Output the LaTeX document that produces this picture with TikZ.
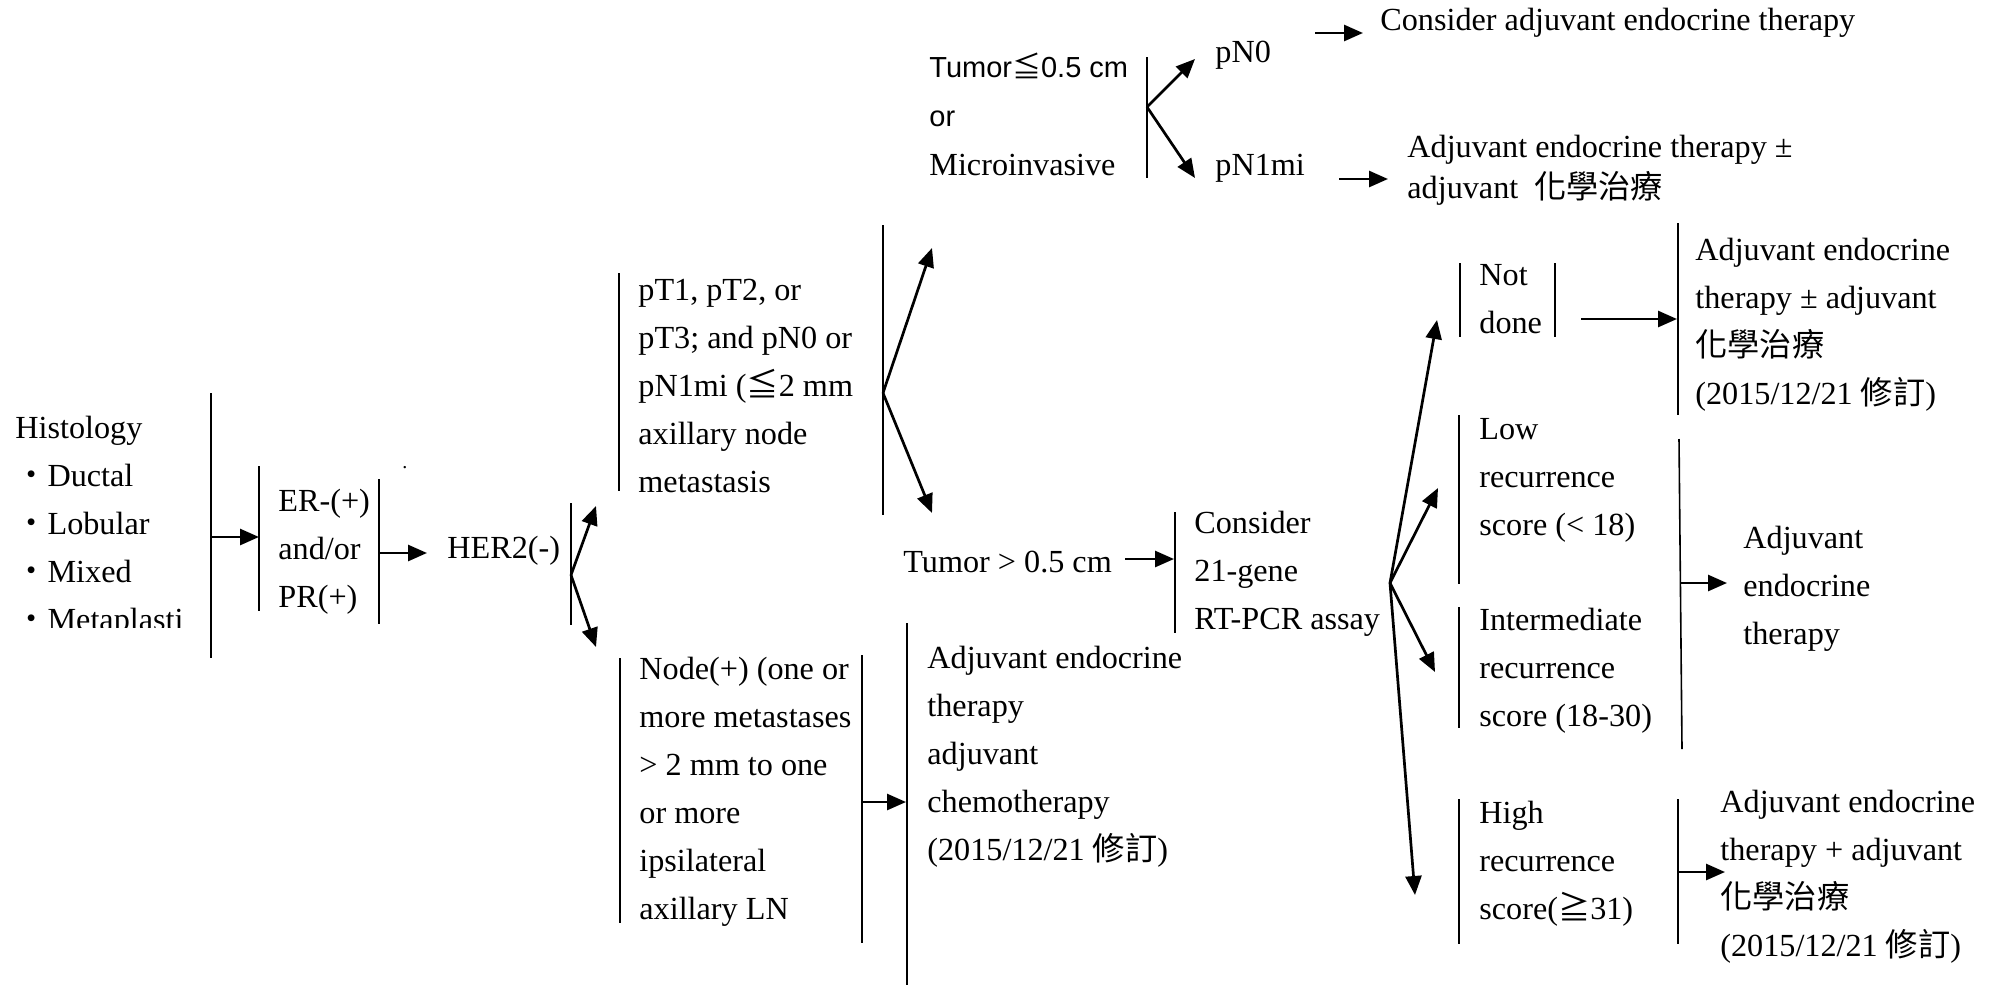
\documentclass[tikz,border=0pt]{standalone}
\usepackage{fontspec}
\setmainfont{Liberation Serif}
\newfontfamily\sansf{Liberation Sans}
\newfontfamily\cjk{Noto Sans CJK TC}
\usetikzlibrary{arrows.meta}
% left-aligned block of lines whose baseline is the first line
\newcommand\txtlines[1]{\begin{tabular}[t]{@{}l@{}}#1\end{tabular}}

\begin{document}
\begin{tikzpicture}[x=0.5pt,y=-0.5pt,
  lbl/.style={anchor=base west, inner sep=0pt, font=\fontsize{16.1}{24}\selectfont},
  bar/.style={line width=0.8pt},
  arr/.style={line width=1.35pt, -{Triangle[length=9.5pt,width=8pt]}}]

\useasboundingbox[fill=white] (0,0) rectangle (2002,985);

% ---------- text blocks ----------
\begin{scope}
  \clip (0,380) rectangle (205,627);
  \node[lbl] (hist) at (15,438) {\txtlines{Histology\\ {\cjk ・}Ductal\\ {\cjk ・}Lobular\\ {\cjk ・}Mixed\\ {\cjk ・}Metaplasti}};
\end{scope}
\node[lbl, font=\fontsize{10}{12}\selectfont] (dot) at (402,468) {.};
\node[lbl] (er) at (278,511) {\txtlines{ER-(+)\\ and/or\\ PR(+)}};
\node[lbl] (her) at (447,558) {HER2(-)};
\node[lbl] (pt) at (638,300) {\txtlines{pT1, pT2, or\\ pT3; and pN0 or\\ pN1mi ({\cjk ≦}2 mm\\ axillary node\\ metastasis}};
\node[lbl] (nodep) at (639,679) {\txtlines{Node(+) (one or\\ more metastases\\ > 2 mm to one\\ or more\\ ipsilateral\\ axillary LN}};
\node[lbl] (chemo) at (927,668) {\txtlines{Adjuvant endocrine\\ therapy\\ adjuvant\\ chemotherapy\\ (2015/12/21 {\cjk 修訂})}};
\node[lbl, font=\fontsize{16.1}{24.5}\selectfont] (small) at (929,77) {\txtlines{{\sansf\fontsize{14.5}{17}\selectfont Tumor{\cjk ≦}0.5 cm}\\ {\sansf\fontsize{14.5}{17}\selectfont or}\\ Microinvasive}};
\node[lbl] (pn0) at (1215,62) {pN0};
\node[lbl] (pn1) at (1215,175) {pN1mi};
\node[lbl] (cons1) at (1380,31) {Consider adjuvant endocrine therapy};
\node[lbl, font=\fontsize{16.1}{20.5}\selectfont] (adj1) at (1407,157) {\txtlines{Adjuvant endocrine therapy ±\\ adjuvant\ \ {\cjk 化學治療}}};
\node[lbl] (big) at (903,572) {Tumor > 0.5 cm};
\node[lbl] (cons2) at (1194,533) {\txtlines{Consider\\ 21-gene\\ RT-PCR assay}};
\node[lbl] (notd) at (1479,285) {\txtlines{Not\\ done}};
\node[lbl] (res1) at (1695,260) {\txtlines{Adjuvant endocrine\\ therapy ± adjuvant\\ {\cjk 化學治療}\\ (2015/12/21 {\cjk 修訂})}};
\node[lbl] (low) at (1479,439) {\txtlines{Low\\ recurrence\\ score (< 18)}};
\node[lbl] (mid) at (1479,630) {\txtlines{Intermediate\\ recurrence\\ score (18-30)}};
\node[lbl] (res2) at (1743,548) {\txtlines{Adjuvant\\ endocrine\\ therapy}};
\node[lbl] (high) at (1479,823) {\txtlines{High\\ recurrence\\ score({\cjk ≧}31)}};
\node[lbl] (res3) at (1720,812) {\txtlines{Adjuvant endocrine\\ therapy + adjuvant\\ {\cjk 化學治療}\\ (2015/12/21 {\cjk 修訂})}};

% ---------- bracket bars ----------
\coordinate (histT) at (211,393);  \coordinate (histB) at (211,658);
\coordinate (erLT) at (259,466);   \coordinate (erLB) at (259,611);
\coordinate (erRT) at (379,479);   \coordinate (erRB) at (379,624);
\coordinate (herT) at (571,503);   \coordinate (herB) at (571,625);
\coordinate (ptLT) at (619,273);   \coordinate (ptLB) at (619,491);
\coordinate (ptRT) at (883,225);   \coordinate (ptRB) at (883,515);
\coordinate (smT) at (1147,57);    \coordinate (smB) at (1147,178);
\coordinate (ndLT) at (620,658);   \coordinate (ndLB) at (620,923);
\coordinate (ndRT) at (862,655);   \coordinate (ndRB) at (862,943);
\coordinate (chT) at (907,623);    \coordinate (chB) at (907,985);
\coordinate (csT) at (1175,512);   \coordinate (csB) at (1175,633);
\coordinate (ntLT) at (1460,263);  \coordinate (ntLB) at (1460,337);
\coordinate (ntRT) at (1555,263);  \coordinate (ntRB) at (1555,337);
\coordinate (r1T) at (1678,223);   \coordinate (r1B) at (1678,415);
\coordinate (lwT) at (1459,415);   \coordinate (lwB) at (1459,584);
\coordinate (mdT) at (1459,607);   \coordinate (mdB) at (1459,728);
\coordinate (r2T) at (1679,439);   \coordinate (r2B) at (1682,749);
\coordinate (hiLT) at (1459,799);  \coordinate (hiLB) at (1459,944);
\coordinate (hiRT) at (1678,799);  \coordinate (hiRB) at (1678,944);

\foreach \a/\b in {histT/histB, erLT/erLB, erRT/erRB, herT/herB, ptLT/ptLB,
  ptRT/ptRB, smT/smB, ndLT/ndLB, ndRT/ndRB, chT/chB, csT/csB, ntLT/ntLB,
  ntRT/ntRB, r1T/r1B, lwT/lwB, mdT/mdB, r2T/r2B, hiLT/hiLB, hiRT/hiRB}
  \draw[bar] (\a) -- (\b);

% ---------- arrow end points ----------
\coordinate (a1s) at (211,537);   \coordinate (a1e) at (259,537);
\coordinate (a2s) at (379,553);   \coordinate (a2e) at (427,553);
\coordinate (herJ) at (571,575);  \coordinate (herU) at (596,506);  \coordinate (herD) at (596,647);
\coordinate (ptJ) at (883,393);   \coordinate (ptU) at (932,248);   \coordinate (ptD) at (932,513);
\coordinate (smJ) at (1147,107);  \coordinate (smU) at (1195,59);   \coordinate (smD) at (1195,178);
\coordinate (n0s) at (1315,33);   \coordinate (n0e) at (1363,33);
\coordinate (n1s) at (1339,179);  \coordinate (n1e) at (1388,179);
\coordinate (bgs) at (1125,559);  \coordinate (bge) at (1174,559);
\coordinate (nds) at (862,802);   \coordinate (nde) at (906,802);
\coordinate (rtJ) at (1390,583);
\coordinate (toNot) at (1437,320); \coordinate (toLow) at (1438,488);
\coordinate (toMid) at (1435,672); \coordinate (toHigh) at (1415,895);
\coordinate (nts) at (1581,319);  \coordinate (nte) at (1677,319);
\coordinate (r2s) at (1680,583);  \coordinate (r2e) at (1727,583);
\coordinate (hes) at (1678,872);  \coordinate (hee) at (1725,872);

% ---------- arrows ----------
\draw[arr] (a1s) -- (a1e);
\draw[arr] (a2s) -- (a2e);
\draw[arr] (herJ) -- (herU);
\draw[arr] (herJ) -- (herD);
\draw[arr] (ptJ) -- (ptU);
\draw[arr] (ptJ) -- (ptD);
\draw[arr] (smJ) -- (smU);
\draw[arr] (smJ) -- (smD);
\draw[arr] (n0s) -- (n0e);
\draw[arr] (n1s) -- (n1e);
\draw[arr] (bgs) -- (bge);
\draw[arr] (nds) -- (nde);
\draw[arr] (rtJ) -- (toNot);
\draw[arr] (rtJ) -- (toLow);
\draw[arr] (rtJ) -- (toMid);
\draw[arr] (rtJ) -- (toHigh);
\draw[arr] (nts) -- (nte);
\draw[arr] (r2s) -- (r2e);
\draw[arr] (hes) -- (hee);
\end{tikzpicture}
\end{document}
